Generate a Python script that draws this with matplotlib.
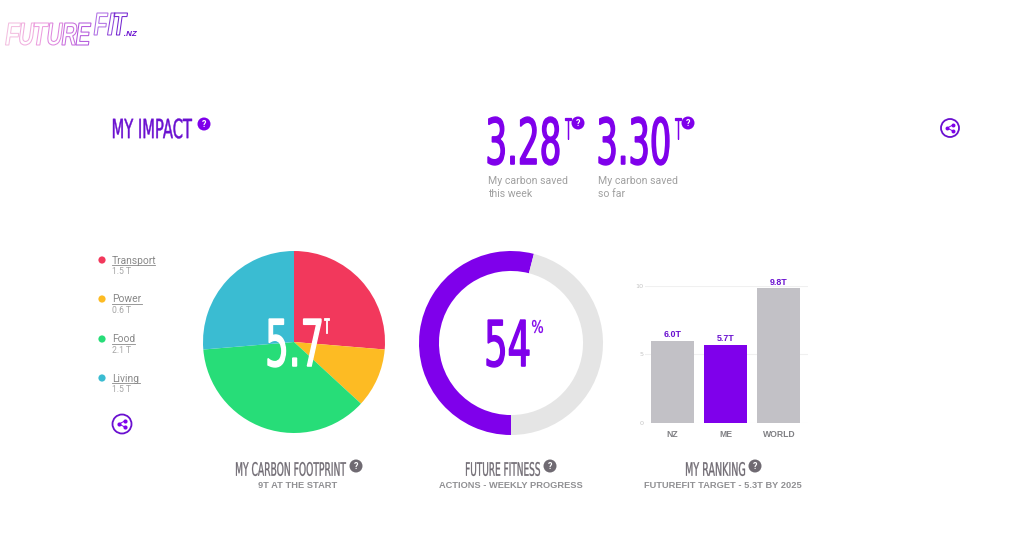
import matplotlib
matplotlib.use('Agg')
import matplotlib.pyplot as plt
from matplotlib.patches import Circle, PathPatch
from matplotlib.text import Text, TextPath
from matplotlib.transforms import Affine2D, Bbox, IdentityTransform

# Chart data
footprint_labels = ['Transport', 'Power', 'Food', 'Living']
footprint_values = [1.5, 0.6, 2.1, 1.5]
footprint_texts = ['1.5 T', '0.6 T', '2.1 T', '1.5 T']
footprint_colors = ['#f2385c', '#fdbb23', '#27dd78', '#3abcd2']

fitness_done = 54
fitness_left = 46

rank_labels = ['NZ', 'ME', 'WORLD']
rank_values = [6.0, 5.7, 9.8]
rank_texts = ['6.0T', '5.7T', '9.8T']
rank_ticks = [0, 5, 10]

PURPLE = '#7f00eb'
DARK_PURPLE = '#6a10d0'
GREY_TITLE = '#6f6a72'
GREY_SUB = '#909093'
GREY_TEXT = '#a0a0a0'
BAR_GREY = '#c2c1c6'

W, H = 1020, 546
fig = plt.figure(figsize=(W / 100, H / 100), dpi=100, facecolor='white')


def px_axes(x0, y0, x1, y1):
    # axes placed with image pixels, y going down
    return fig.add_axes([x0 / W, 1 - y1 / H, (x1 - x0) / W, (y1 - y0) / H])


class BoxText(Text):
    # real text, squeezed to fit a box, since no tall condensed font is installed
    def __init__(self, box, s, color, family='Liberation Sans Narrow', weight='normal',
                 skew=0, outline=False, stroke=0.0, size=None):
        super().__init__(box[0], box[3], s, color=color, family=family, weight=weight)
        self.box = box
        self.skew = skew
        self.outline = outline
        self.stroke = stroke
        if size is None:
            # natural width close to the box width, so the text measures about right
            natural = TextPath((0, 0), s, size=100, prop=self.get_fontproperties()).get_extents().width
            size = max((box[2] - box[0]) / natural * 100 * 0.72, 1)
        self.set_fontsize(size)

    def get_window_extent(self, renderer=None, dpi=None):
        x0, y0, x1, y1 = self.box
        tr = self.get_transform()
        return Bbox([tr.transform((x0, y1)), tr.transform((x1, y0))])

    def draw(self, renderer):
        if not self.get_visible():
            return
        path = TextPath((0, 0), self.get_text(), size=100, prop=self.get_fontproperties())
        path = Affine2D.from_values(1, 0, self.skew, 1, 0, 0).transform_path(path)
        ext = path.get_extents()
        bb = self.get_window_extent()
        fit = (Affine2D().translate(-ext.x0, -ext.y0)
               .scale(bb.width / ext.width, bb.height / ext.height)
               .translate(bb.x0, bb.y0))
        face = 'none' if self.outline else self.get_color()
        patch = PathPatch(fit.transform_path(path), facecolor=face, edgecolor=self.get_color(),
                          lw=self.stroke, transform=IdentityTransform())
        patch.set_figure(self.get_figure())
        patch.draw(renderer)


# Pie
ax_pie = px_axes(203, 251, 385, 433)
ax_pie.pie(footprint_values, colors=footprint_colors, startangle=90, counterclock=False, radius=1)
ax_pie.set_xlim(-1, 1)
ax_pie.set_ylim(-1, 1)

# Donut, starts at the bottom and goes clockwise
ax_donut = px_axes(419, 251, 603, 435)
ax_donut.pie([fitness_done, fitness_left], colors=[PURPLE, '#e5e5e5'], startangle=270,
             counterclock=False, radius=1, wedgeprops={'width': 0.217})
ax_donut.set_xlim(-1, 1)
ax_donut.set_ylim(-1, 1)

# Ranking bars
ax_bar = px_axes(645, 285.5, 808, 423)
bar_colors = [BAR_GREY, PURPLE, BAR_GREY]
ax_bar.bar(range(len(rank_values)), rank_values, width=0.807, color=bar_colors, zorder=3)
ax_bar.set_xlim(-0.516, 2.545)
ax_bar.set_ylim(0, 10)
ax_bar.set_yticks(rank_ticks)
ax_bar.set_xticks(range(len(rank_labels)))
ax_bar.set_xticklabels(rank_labels, family='Liberation Sans', weight='bold', fontsize=6.2, color='#808084')
ax_bar.tick_params(axis='x', length=0, pad=5)
ax_bar.tick_params(axis='y', length=0, pad=1, labelsize=4.6, labelcolor='#c4c4c4')
ax_bar.grid(axis='y', color='#f0f0f0', lw=0.8, zorder=0)
for s in ax_bar.spines.values():
    s.set_visible(False)
for i, v in enumerate(rank_values):
    ax_bar.text(i, v + 0.1, rank_texts[i], ha='center', va='bottom', family='Liberation Sans',
                weight='bold', fontsize=6.4, color=DARK_PURPLE, clip_on=False)

# Overlay in pixel coordinates for the page furniture
ax = fig.add_axes([0, 0, 1, 1], facecolor='none')
ax.set_xlim(0, W)
ax.set_ylim(H, 0)
ax.axis('off')


def badge(x, y, color, r=6.5):
    ax.add_patch(Circle((x, y), r, color=color, lw=0))
    ax.text(x, y + 0.3, '?', ha='center', va='center', color='white', fontsize=6.5,
            weight='bold', family='Roboto')


def share(x, y, r):
    ax.add_patch(Circle((x, y), r, facecolor='white', edgecolor=DARK_PURPLE, lw=1.3))
    k = r / 9.5
    ax.plot([x + 3.3 * k, x - 3 * k, x + 3.3 * k], [y - 3.3 * k, y, y + 3.3 * k], color=PURPLE, lw=0.7)
    ax.plot([x + 3.3 * k, x - 3 * k, x + 3.3 * k], [y - 3.3 * k, y, y + 3.3 * k], 'o', color=PURPLE, ms=3.0 * k, mew=0)


def box_text(box, s, color, **kw):
    ax.add_artist(BoxText(box, s, color, **kw))


# Logo
logo_colors = ['#f3bfe0', '#f0aede', '#ec9edf', '#dd86de', '#c86edd', '#b45adc']
for i, ch in enumerate('FUTURE'):
    lx = 5.5 + i * 14.1
    box_text((lx, 23, lx + 15, 45), ch, logo_colors[i], family='Liberation Sans', weight='bold',
             skew=0.2, outline=True, stroke=0.75, size=8)
fit_colors = ['#b070e4', '#9048da', '#7426d0']
fit_left = [94, 107.5, 114]
fit_width = [14, 7.5, 13.5]
for i, ch in enumerate('FIT'):
    box_text((fit_left[i], 13, fit_left[i] + fit_width[i], 35), ch, fit_colors[i], family='Liberation Sans',
             weight='bold', skew=0.2, outline=True, stroke=0.75, size=8)
box_text((124, 31, 137, 36), '.NZ', '#6a10d0', family='Liberation Sans', weight='bold', skew=0.2, size=4)

# Header
box_text((113, 118.5, 192, 138.5), 'MY IMPACT', DARK_PURPLE, stroke=0.3)
badge(204, 124, PURPLE)
share(950, 128, 9)

box_text((488, 117, 559, 165), '3.28', PURPLE, stroke=1.0)
box_text((565, 118, 571, 139), 'T', PURPLE, stroke=0.9)
badge(578, 123, PURPLE)
box_text((599, 117, 669, 165), '3.30', PURPLE, stroke=1.0)
box_text((675, 118, 681, 139), 'T', PURPLE, stroke=0.9)
badge(688, 123, PURPLE)

for tx, line2 in [(488, 'this week'), (598, 'so far')]:
    ax.text(tx, 181, 'My carbon saved', va='center', family='Roboto', fontsize=7.6, color=GREY_TEXT)
    ax.text(tx, 194, line2, va='center', family='Roboto', fontsize=7.6, color=GREY_TEXT)

# Legend
legend_y = [260, 299, 339, 378]
legend_width = [43, 30, 23, 28]
for i, name in enumerate(footprint_labels):
    ax.add_patch(Circle((102, legend_y[i]), 3.6, color=footprint_colors[i], lw=0))
    ax.text(112, legend_y[i] + 0.5, name, va='center', family='Roboto', fontsize=7.4, color='#888888')
    ax.plot([112, 112 + legend_width[i]], [legend_y[i] + 5] * 2, color='#888888', lw=0.6)
    ax.text(112, legend_y[i] + 11.5, footprint_texts[i], va='center', family='Roboto', fontsize=6.2, color='#a5a5a5')
share(122, 424, 9.5)

# Centre values
box_text((268, 319, 321, 367), '5.7', 'white', stroke=1.0)
box_text((324, 318, 329, 333), 'T', 'white', stroke=0.6)
box_text((487, 320, 529, 367), '54', PURPLE, stroke=1.0)
box_text((532, 320, 543, 333), '%', PURPLE, stroke=0.2)

# Chart captions
box_text((236, 462, 346, 476), 'MY CARBON FOOTPRINT', GREY_TITLE, stroke=0.2)
badge(356, 466, GREY_TITLE)
box_text((466, 462, 540, 476), 'FUTURE FITNESS', GREY_TITLE, stroke=0.2)
badge(550, 466, GREY_TITLE)
box_text((686, 462, 745, 476), 'MY RANKING', GREY_TITLE, stroke=0.2)
badge(755, 466, GREY_TITLE)

for cx, sub in [(297.5, '9T AT THE START'), (510.5, 'ACTIONS - WEEKLY PROGRESS'), (723, 'FUTUREFIT TARGET - 5.3T BY 2025')]:
    ax.text(cx, 485.5, sub, ha='center', va='center', family='Liberation Sans', weight='bold', fontsize=6.65, color=GREY_SUB)

fig.savefig('out.png', dpi=100)
